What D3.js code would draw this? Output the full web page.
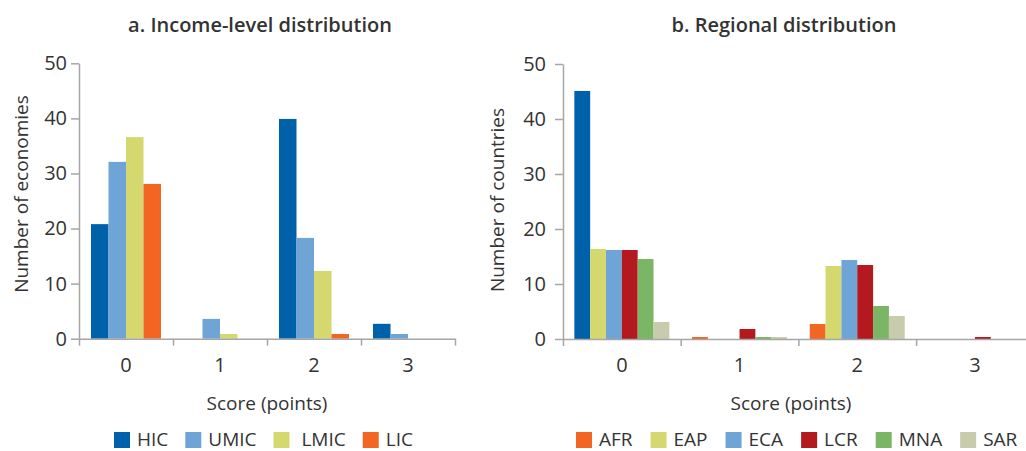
<!DOCTYPE html>
<html>
<head>
<meta charset="utf-8">
<script src="https://cdn.jsdelivr.net/npm/d3@7"></script>
<style>
  html, body { margin: 0; padding: 0; background: #fff; }
  svg { display: block; }
  text { font-family: "Open Sans", "Noto Sans", sans-serif; fill: #333; }
</style>
</head>
<body>
<svg id="chart" width="1026" height="451"></svg>
<script>
// ---------------- DATA ----------------
const scores = ["0", "1", "2", "3"];

// Panel a: income level
const incomeGroups = ["HIC", "UMIC", "LMIC", "LIC"];
const incomeLegendLabels = ["HIC", "UMIC", " LMIC", "LIC"];
const incomeColors = ["#0061AB", "#6FA4D6", "#D4D86F", "#F26522"];
const hicValues  = [20.8, 0,   39.9, 2.7];
const umicValues = [32.1, 3.6, 18.3, 0.85];
const lmicValues = [36.6, 0.85, 12.3, 0];
const licValues  = [28.1, 0,   0.85, 0];

// Panel b: region
const regions = ["AFR", "EAP", "ECA", "LCR", "MNA", "SAR"];
const regionColors = ["#F26522", "#D4D86F", "#6FA4D6", "#B3191F", "#7BB665", "#C9CCAC"];
const afrValues = [45.1, 0.36, 2.73, 0];
const eapValues = [16.36, 0, 13.27, 0];
const ecaValues = [16.18, 0, 14.36, 0];
const lcrValues = [16.18, 1.82, 13.45, 0.36];
const mnaValues = [14.55, 0.36, 6.0, 0];
const sarValues = [3.09, 0.36, 4.18, 0];

const yTicks = [0, 10, 20, 30, 40, 50];

const incomeSeries = [hicValues, umicValues, lmicValues, licValues];
const regionSeries = [afrValues, eapValues, ecaValues, lcrValues, mnaValues, sarValues];

// ---------------- DRAW ----------------
const svg = d3.select("#chart");
const axisColor = "#A6A6A6";

function panel(opts) {
  const g = svg.append("g");
  const x = d3.scaleBand().domain(scores).range([opts.x0, opts.x0 + opts.bandW * scores.length]);
  const inner = d3.scaleBand().domain(opts.series).range([opts.pad, x.bandwidth() - opts.pad]);
  const y = d3.scaleLinear().domain([0, 50]).range([opts.yBottom, opts.yTop]);

  // bars
  opts.series.forEach((s, i) => {
    g.append("g").selectAll("rect")
      .data(scores.map((sc, j) => ({ score: sc, value: opts.values[i][j], series: s })))
      .join("rect")
      .filter(d => d.value > 0)
      .attr("x", d => x(d.score) + inner(s))
      .attr("width", inner.bandwidth())
      .attr("y", d => y(d.value))
      .attr("height", d => y(0) - y(d.value))
      .attr("fill", d => opts.colorFor(d, i));
  });

  // y axis
  const ya = g.append("g").attr("transform", `translate(${opts.x0},0)`)
    .call(d3.axisLeft(y).tickValues(yTicks).tickSize(8).tickSizeOuter(0).tickPadding(opts.yPad));
  ya.select(".domain").attr("stroke", axisColor).attr("stroke-width", 1.5);
  ya.selectAll(".tick line").attr("stroke", axisColor).attr("stroke-width", 1.5);
  ya.selectAll(".tick text").style("font-size", "20px").attr("fill", "#333")
    .style("font-family", '"Open Sans", sans-serif');

  // x axis: line + boundary ticks
  const xEdge = d3.scaleLinear().domain([0, scores.length]).range(x.range());
  const xa = g.append("g").attr("transform", `translate(0,${opts.yBottom})`)
    .call(d3.axisBottom(xEdge).tickValues(d3.range(scores.length + 1)).tickSize(7).tickSizeOuter(0).tickFormat(""));
  xa.select(".domain").attr("stroke", axisColor).attr("stroke-width", 1.5);
  xa.selectAll(".tick line").attr("stroke", axisColor).attr("stroke-width", 1.5);

  // x labels
  const xl = g.append("g").attr("transform", `translate(0,${opts.yBottom})`)
    .call(d3.axisBottom(x).tickSize(0).tickPadding(19));
  xl.select(".domain").remove();
  xl.selectAll(".tick text").style("font-size", "20px").attr("fill", "#333")
    .style("font-family", '"Open Sans", sans-serif');

  // title
  g.append("text").attr("x", opts.titleX).attr("y", 32).attr("text-anchor", "middle")
    .style("font-size", "20px").style("font-weight", 600).attr("fill", "#222").text(opts.title);

  // y title
  g.append("text").attr("transform", `translate(${opts.yTitleX},${opts.yTitleY}) rotate(-90)`)
    .attr("text-anchor", "middle").style("font-size", "19px").text(opts.yTitle);

  // x title
  g.append("text").attr("x", opts.xTitleX).attr("y", 410).attr("text-anchor", "middle")
    .style("font-size", "19px").text("Score (points)");

  // legend
  const lg = g.append("g");
  let cx = opts.legendX;
  opts.series.forEach((s, i) => {
    lg.append("rect").attr("x", cx).attr("y", 432).attr("width", 16).attr("height", 16)
      .attr("fill", opts.legendColors[i]);
    const t = lg.append("text").attr("x", cx + 23).attr("y", 446)
      .style("font-size", "19px").style("white-space", "pre").attr("xml:space", "preserve")
      .text(opts.legendLabels[i]);
    cx = cx + 23 + t.node().getComputedTextLength() + opts.legendGap;
  });
}

panel({
  series: incomeGroups, values: incomeSeries,
  x0: 79, bandW: 94, pad: 12, yBottom: 338.7, yTop: 63.3, yPad: 4,
  colorFor: (d, i) => incomeColors[i],
  title: "a. Income-level distribution", titleX: 260,
  yTitle: "Number of economies", yTitleX: 28, yTitleY: 194,
  xTitleX: 267,
  legendX: 114, legendGap: 17, legendColors: incomeColors, legendLabels: incomeLegendLabels
});

panel({
  series: regions, values: regionSeries,
  x0: 563, bandW: 117.7, pad: 11.35, yBottom: 339, yTop: 64, yPad: 9,
  // in the source figure the AFR bar at score 0 is drawn in the dark blue
  colorFor: (d, i) => (d.series === "AFR" && d.score === "0") ? "#0061AB" : regionColors[i],
  title: "b. Regional distribution", titleX: 784,
  yTitle: "Number of countries", yTitleX: 504, yTitleY: 200,
  xTitleX: 791,
  legendX: 576, legendGap: 18, legendColors: regionColors, legendLabels: regions
});
</script>
</body>
</html>
